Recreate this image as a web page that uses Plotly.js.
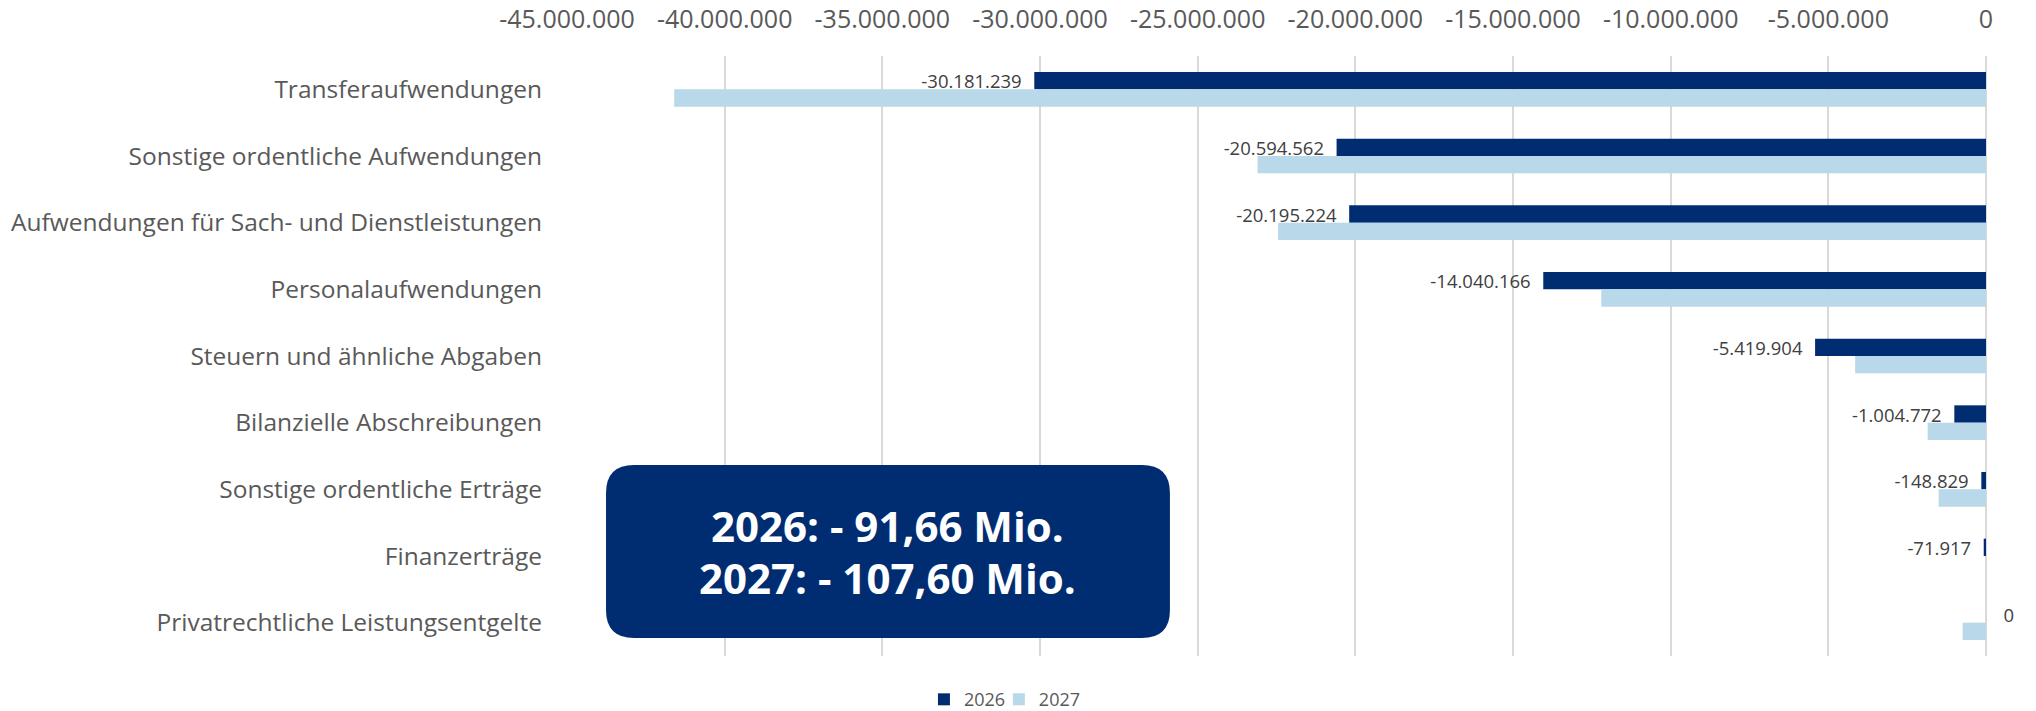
<!DOCTYPE html>
<html><head><meta charset="utf-8">
<script src="https://cdn.plot.ly/plotly-3.0.1.min.js"></script>
<style>html,body{margin:0;padding:0;background:#fff}#chart{width:2036px;height:711px}</style>
</head><body><div id="chart"></div>
<script>
const categories = ["Transferaufwendungen","Sonstige ordentliche Aufwendungen","Aufwendungen für Sach- und Dienstleistungen","Personalaufwendungen","Steuern und ähnliche Abgaben","Bilanzielle Abschreibungen","Sonstige ordentliche Erträge","Finanzerträge","Privatrechtliche Leistungsentgelte"];
const values2026 = [-30181239,-20594562,-20195224,-14040166,-5419904,-1004772,-148829,-71917,0];
const values2027 = [-41600000,-23100000,-22450000,-12200000,-4150000,-1850000,-1500000,0,-740000];
const seriesNames = ["2026","2027"];
const tickValues = [-45000000,-40000000,-35000000,-30000000,-25000000,-20000000,-15000000,-10000000,-5000000,0];
const tickLabels = ["-45.000.000","-40.000.000","-35.000.000","-30.000.000","-25.000.000","-20.000.000","-15.000.000","-10.000.000","-5.000.000","0"];
const summaryLines = ["2026: - 91,66 Mio.","2027: - 107,60 Mio."];

const NAVY = "#002D72", LIGHT = "#B9D8EA";
function fmt(v){
  const s = Math.abs(Math.round(v)).toString().replace(/\B(?=(\d{3})+(?!\d))/g,'.');
  return (v<0?'-':'') + s;
}
const labels2026 = values2026.map(v => v < 0 ? fmt(v) + '\u00a0\u00a0' : '\u00a0\u00a0\u00a0' + fmt(v));

const traces = [
  {type:'bar', orientation:'h', name:seriesNames[0], y:categories, x:values2026,
   marker:{color:NAVY}, text:labels2026, textposition:'outside', cliponaxis:false,
   constraintext:'none', textfont:{size:18.5, color:'#404040', family:'Open Sans'}, hoverinfo:'x+y', legend:'legend'},
  {type:'bar', orientation:'h', name:seriesNames[1], y:categories, x:values2027,
   marker:{color:LIGHT}, hoverinfo:'x+y', legend:'legend2'}
];

const x0=0.0275, x1=0.4249, y0=0.03, y1=0.3183, rx=0.01973, ry=0.04667;
const boxPath = `M ${x0+rx},${y0} L ${x1-rx},${y0} Q ${x1},${y0} ${x1},${y0+ry} L ${x1},${y1-ry} Q ${x1},${y1} ${x1-rx},${y1} L ${x0+rx},${y1} Q ${x0},${y1} ${x0},${y1-ry} L ${x0},${y0+ry} Q ${x0},${y0} ${x0+rx},${y0} Z`;

const legendBase = {orientation:'h', xref:'container', yref:'container', xanchor:'left', y:0.016, yanchor:'middle',
    font:{size:18, color:'#595959'}, itemwidth:30, bgcolor:'rgba(0,0,0,0)'};

const layout = {
  width:2036, height:711,
  margin:{l:567, r:50, t:56, b:55},
  paper_bgcolor:'#fff', plot_bgcolor:'#fff',
  font:{family:'Open Sans', color:'#595959'},
  barmode:'group', bargap:0.48, bargroupgap:0,
  showlegend:true,
  xaxis:{side:'top', range:[-45000000,0], tickmode:'array', tickvals:tickValues, ticktext:tickLabels,
    tickfont:{size:25, color:'#595959'}, showgrid:true, gridcolor:'#D9D9D9', gridwidth:2,
    zeroline:true, zerolinecolor:'#D9D9D9', zerolinewidth:2, showline:false, ticks:'', ticklabelstandoff:22, fixedrange:true},
  yaxis:{type:'category', autorange:'reversed', tickfont:{size:24.5, color:'#595959'}, showgrid:false,
    zeroline:false, showline:false, ticks:'', ticklabelstandoff:24, fixedrange:true},
  legend:Object.assign({}, legendBase, {x:0.4538}),
  legend2:Object.assign({}, legendBase, {x:0.4906}),
  shapes:[{type:'path', xref:'paper', yref:'paper', path:boxPath, fillcolor:NAVY, line:{width:0}, layer:'above'}],
  annotations:[
    {xref:'paper', yref:'paper', x:0.2262, y:0.2183, text:'<b>'+summaryLines[0]+'</b>', showarrow:false,
     font:{size:42, color:'#FFFFFF', family:'Open Sans'}, xanchor:'center', yanchor:'middle'},
    {xref:'paper', yref:'paper', x:0.2262, y:0.1305, text:'<b>'+summaryLines[1]+'</b>', showarrow:false,
     font:{size:42, color:'#FFFFFF', family:'Open Sans'}, xanchor:'center', yanchor:'middle'}
  ]
};

Plotly.newPlot('chart', traces, layout, {displayModeBar:false, staticPlot:true});
</script>
</body></html>
